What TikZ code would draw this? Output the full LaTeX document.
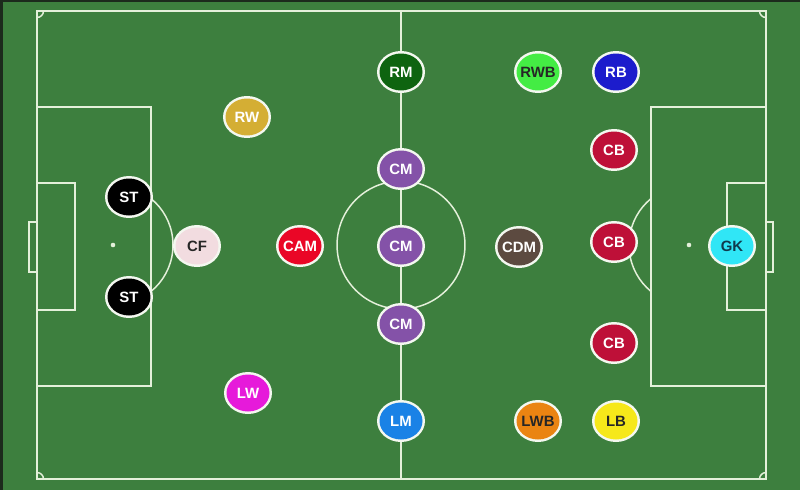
\documentclass[tikz,border=0pt]{standalone}
\usepackage{fontspec}
\setmainfont{Liberation Sans}
\usetikzlibrary{shapes.geometric}
\definecolor{pitch}{HTML}{3D7F3E}
\definecolor{frame}{HTML}{1C2A1C}
\definecolor{chalk}{HTML}{E4F0DA}
\definecolor{rmgreen}{HTML}{0E6410}
\definecolor{rwbgreen}{HTML}{44EC44}
\definecolor{rbblue}{HTML}{1C1CCC}
\definecolor{rwgold}{HTML}{D4AE34}
\definecolor{cbred}{HTML}{BE1038}
\definecolor{cmpurple}{HTML}{8452A8}
\definecolor{cfpink}{HTML}{F2DCE0}
\definecolor{camred}{HTML}{EA0626}
\definecolor{cdmbrown}{HTML}{5C4A40}
\definecolor{gkcyan}{HTML}{30E6F6}
\definecolor{lwmagenta}{HTML}{E61ADA}
\definecolor{lmblue}{HTML}{1A82E6}
\definecolor{lwborange}{HTML}{EA8412}
\definecolor{lbyellow}{HTML}{F6E81A}
\definecolor{ring}{HTML}{F4F8F0}
\definecolor{darkink}{HTML}{262626}
\definecolor{gkink}{HTML}{103A4C}
\begin{document}
\begin{tikzpicture}[x=0.02cm,y=-0.02cm,
  line/.style={chalk,line width=0.85pt},
  rim/.style={ellipse,fill=ring,minimum width=0.96cm,minimum height=0.84cm,inner sep=0pt},
  player/.style={ellipse,minimum width=0.86cm,minimum height=0.74cm,inner sep=0pt,font=\fontsize{8.5}{10}\selectfont\bfseries}]
\fill[frame] (0,0) rectangle (800,490);
\fill[pitch] (3,2) rectangle (800,490);
% field lines
\draw[line] (37,11) rectangle (766,479);
\draw[line] (401,11) -- (401,479);
\draw[line] (401,245) circle[radius=1.28cm];
\draw[line] (37,107) rectangle (151,386);
\draw[line] (37,183) rectangle (75,310);
\draw[line] (29,222) rectangle (37,272);
\draw[line] (651,107) rectangle (766,386);
\draw[line] (727,183) rectangle (766,310);
\draw[line] (766,222) rectangle (773,272);
\fill[chalk] (113,245) circle[radius=1.3pt];
\fill[chalk] (689,245) circle[radius=1.3pt];
\begin{scope}
\clip (151,0) rectangle (651,490);
\draw[line] (113,245) circle[radius=1.2cm];
\draw[line] (689,245) circle[radius=1.2cm];
\end{scope}
\begin{scope}
\clip (37,11) rectangle (766,479);
\foreach \cx/\cy in {37/11,766/11,37/479,766/479}
  \draw[line] (\cx,\cy) circle[radius=0.13cm];
\end{scope}
% players: name/x/y/fill/ink/label
\foreach \n/\x/\y/\c/\t/\l in {
  rm/401/72/rmgreen/white/RM, rwb/538/72/rwbgreen/darkink/RWB, rb/616/72/rbblue/white/RB,
  rw/247/117/rwgold/white/RW, cbr/614/150/cbred/white/CB, cmr/401/169/cmpurple/white/CM,
  str/129/197/black/white/ST, cf/197/246/cfpink/darkink/CF, cam/300/246/camred/white/CAM,
  cmc/401/246/cmpurple/white/CM, cdm/519/247/cdmbrown/white/CDM, cbc/614/242/cbred/white/CB,
  gk/732/246/gkcyan/gkink/GK, stl/129/297/black/white/ST, cml/401/324/cmpurple/white/CM,
  cbl/614/343/cbred/white/CB, lw/248/393/lwmagenta/white/LW, lm/401/421/lmblue/white/LM,
  lwb/538/421/lwborange/darkink/LWB, lb/616/421/lbyellow/darkink/LB}
{
  \node[rim] (\n-rim) at (\x,\y) {};
  \node[player,fill=\c,text=\t] (\n) at (\n-rim) {\makebox[0pt]{\l}};
}
\end{tikzpicture}
\end{document}
